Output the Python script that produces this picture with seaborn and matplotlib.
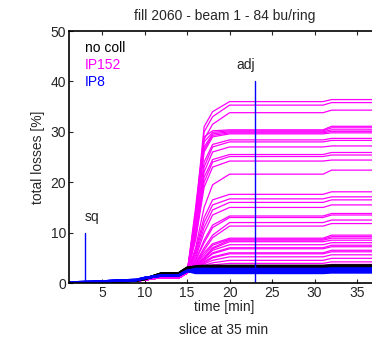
import numpy as np
import pandas as pd
import matplotlib
matplotlib.use("Agg")
import matplotlib.pyplot as plt
import seaborn as sns

# time grid [min]: shared rise before 15 min, per-curve values after
t_pre = [1, 3, 5, 7, 9, 10, 12, 14, 15]
t_post = [16, 17, 18, 20, 31, 32, 37]

black_pre = [0.0, 0.1, 0.2, 0.3, 0.5, 0.8, 1.9, 1.9, 3.0]
blue_pre = [0.1, 0.2, 0.3, 0.5, 0.6, 1.0, 1.5, 1.5, 2.4]
magenta_pre = [0.0, 0.1, 0.2, 0.3, 0.4, 0.6, 1.1, 1.0, 2.0]

# IP152 curves: values at t_post
ip152_post = [
    [14.0, 31.0, 34.0, 36.0, 36.0, 36.4, 36.4],
    [13.0, 30.0, 33.0, 35.3, 35.3, 35.8, 35.8],
    [12.0, 28.5, 31.5, 33.8, 33.8, 34.3, 34.3],
    [15.0, 29.0, 30.2, 30.4, 30.4, 31.1, 31.1],
    [14.0, 28.0, 29.9, 30.2, 30.2, 30.8, 30.8],
    [13.0, 27.0, 29.6, 30.0, 30.0, 30.4, 30.4],
    [12.5, 26.5, 29.3, 29.8, 29.8, 30.1, 30.1],
    [12.0, 26.0, 29.0, 29.6, 29.6, 29.8, 29.8],
    [11.0, 24.0, 27.5, 28.4, 28.4, 28.7, 28.7],
    [10.5, 23.0, 27.0, 28.0, 28.0, 28.3, 28.3],
    [10.0, 22.0, 26.0, 27.0, 27.0, 27.2, 27.2],
    [9.5, 21.0, 24.5, 25.5, 25.5, 25.9, 25.9],
    [9.0, 20.0, 24.0, 25.1, 25.1, 25.4, 25.4],
    [8.5, 19.0, 23.0, 24.2, 24.2, 24.4, 24.4],
    [7.0, 15.0, 19.5, 21.6, 21.6, 22.4, 22.4],
    [6.5, 13.0, 16.5, 17.6, 17.6, 18.1, 18.1],
    [6.0, 12.0, 15.5, 16.7, 16.7, 17.1, 17.1],
    [5.5, 11.0, 14.5, 16.0, 16.0, 16.5, 16.5],
    [5.0, 10.0, 13.5, 15.0, 15.0, 15.5, 15.5],
    [4.5, 8.5, 11.5, 13.3, 13.3, 13.8, 13.8],
    [4.5, 8.0, 11.0, 13.0, 13.0, 13.5, 13.5],
    [4.0, 7.0, 9.5, 12.0, 12.0, 12.5, 12.5],
    [4.0, 6.5, 9.0, 11.3, 11.3, 11.8, 11.8],
    [3.8, 6.0, 7.8, 8.9, 8.9, 9.5, 9.5],
    [3.8, 5.5, 7.5, 8.7, 8.7, 9.2, 9.2],
    [3.6, 5.0, 7.0, 8.5, 8.5, 8.9, 8.9],
    [3.6, 5.0, 6.8, 8.2, 8.2, 8.5, 8.5],
    [3.5, 4.8, 6.5, 7.6, 7.6, 8.0, 8.0],
    [3.4, 4.5, 6.0, 7.0, 7.0, 7.5, 7.5],
    [3.4, 4.5, 5.8, 6.8, 6.8, 7.2, 7.2],
    [3.3, 4.2, 5.2, 6.0, 6.0, 6.5, 6.5],
    [3.2, 4.0, 5.0, 5.8, 5.8, 6.2, 6.2],
    [3.1, 3.8, 4.5, 5.2, 5.2, 5.6, 5.6],
    [3.0, 3.5, 4.0, 4.5, 4.5, 4.9, 4.9],
    [2.9, 3.3, 3.6, 3.9, 3.9, 4.2, 4.2],
    [2.8, 3.0, 3.2, 3.5, 3.5, 3.7, 3.7],
]

# no coll (black) and IP8 (blue) bands after 15 min
black_post = [
    [3.1, 3.2, 3.2, 3.2, 3.2, 3.3, 3.3],
    [3.2, 3.3, 3.3, 3.3, 3.3, 3.4, 3.4],
    [3.3, 3.4, 3.4, 3.4, 3.4, 3.5, 3.5],
    [3.0, 3.1, 3.1, 3.1, 3.1, 3.2, 3.2],
]
blue_post = [
    [2.0, 2.0, 2.0, 2.0, 2.0, 2.1, 2.1],
    [2.2, 2.2, 2.2, 2.2, 2.2, 2.3, 2.3],
    [2.4, 2.4, 2.4, 2.4, 2.4, 2.5, 2.5],
    [2.6, 2.6, 2.6, 2.6, 2.6, 2.7, 2.7],
    [2.8, 2.8, 2.8, 2.8, 2.8, 2.9, 2.9],
]

t_sq = 3.0
t_adj = 23.0


def to_long(pre, posts, group):
    rows = []
    for i, post in enumerate(posts):
        for t, v in zip(t_pre + t_post, pre + post):
            rows.append({"time": t, "loss": v, "curve": f"{group}{i}", "group": group})
    return pd.DataFrame(rows)


df = pd.concat([
    to_long(magenta_pre, ip152_post, "IP152"),
    to_long(black_pre, black_post, "no coll"),
    to_long(blue_pre, blue_post, "IP8"),
])

sns.set_theme(style="ticks")
plt.rcParams["font.family"] = ["Liberation Sans", "DejaVu Sans"]
plt.rcParams["xtick.direction"] = "in"
plt.rcParams["ytick.direction"] = "in"

fig = plt.figure(figsize=(3.72, 3.41), dpi=100)
ax = fig.add_axes([0.1855, 0.170, 0.836, 0.739])

palette = {"IP152": "#ff00ff", "no coll": "black", "IP8": "#0000ff"}
widths = {"IP152": 0.9, "no coll": 1.8, "IP8": 1.8}
for grp in ["IP152", "no coll", "IP8"]:
    sns.lineplot(data=df[df["group"] == grp], x="time", y="loss", units="curve",
                 estimator=None, color=palette[grp], lw=widths[grp], ax=ax,
                 legend=False)

ax.plot([t_sq, t_sq], [0, 10], color="#0000ff", lw=1)
ax.plot([t_adj, t_adj], [0, 40], color="#0000ff", lw=1)
ax.text(t_sq, 13.1, "sq", ha="left", va="center", fontsize=10)
ax.text(t_adj, 43.3, "adj", ha="right", va="center", fontsize=10)

ax.text(3.0, 46.6, "no coll", color="black", va="center", fontsize=10)
ax.text(3.0, 43.3, "IP152", color="#ff00ff", va="center", fontsize=10)
ax.text(3.0, 39.9, "IP8", color="#0000ff", va="center", fontsize=10)

ax.set_xlim(1.1, 37.7)
ax.set_ylim(0, 50)
ax.set_xticks([5, 10, 15, 20, 25, 30, 35])
ax.set_yticks([0, 10, 20, 30, 40, 50])
ax.tick_params(axis="both", labelsize=10, length=3, width=0.8, top=True, right=True, pad=2)
for s in ax.spines.values():
    s.set_linewidth(1.2)
    s.set_color("black")

ax.set_title("fill 2060 - beam 1 - 84 bu/ring", fontsize=10, pad=8)
ax.set_xlabel("time [min]", fontsize=10, labelpad=0)
ax.set_ylabel("total losses [%]", fontsize=10, labelpad=4)
fig.text(0.6, 0.032, "slice at 35 min", ha="center", va="center", fontsize=10)

fig.savefig("out.png", dpi=100)
